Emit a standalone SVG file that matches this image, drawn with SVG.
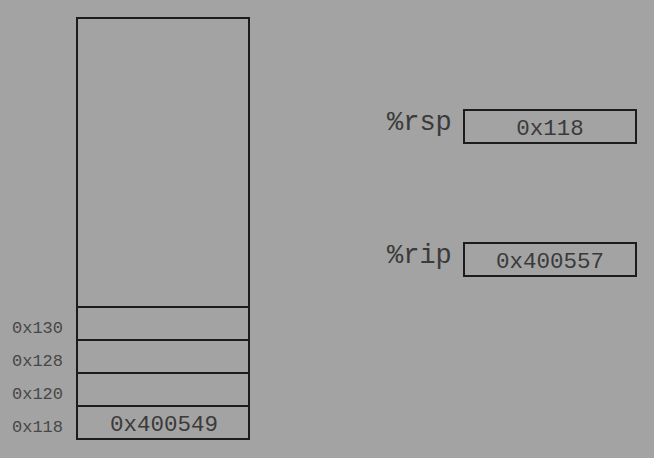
<svg xmlns="http://www.w3.org/2000/svg" width="654" height="458" viewBox="0 0 654 458">
<style>
.box{fill:none;stroke:#1c1c1c;stroke-width:2}
.t{font-family:"Liberation Mono","Courier New",monospace;fill:#3a3a3a}
.v{font-size:22.5px;text-anchor:middle}
.a{font-size:17px;fill:#474747}
.r{font-size:27px}
</style>
<rect width="654" height="458" fill="#a3a3a3"/>
<g id="stack">
<rect class="box" x="77" y="18" width="172" height="289"/>
</g>
<g id="slot130"><rect class="box" x="77" y="307" width="172" height="33"/><text class="t a" x="12" y="333">0x130</text></g>
<g id="slot128"><rect class="box" x="77" y="340" width="172" height="33"/><text class="t a" x="12" y="366">0x128</text></g>
<g id="slot120"><rect class="box" x="77" y="373" width="172" height="33"/><text class="t a" x="12" y="399">0x120</text></g>
<g id="slot118"><rect class="box" x="77" y="406" width="172" height="33"/><text class="t a" x="12" y="432">0x118</text><text class="t v" x="164" y="431">0x400549</text></g>
<g id="rsp"><text class="t r" x="387" y="130">%rsp</text><rect class="box" x="464" y="110" width="172" height="33"/><text class="t v" x="550" y="135">0x118</text></g>
<g id="rip"><text class="t r" x="387" y="263">%rip</text><rect class="box" x="464" y="243" width="172" height="33"/><text class="t v" x="550" y="268">0x400557</text></g>
<g id="connectors"></g>
</svg>
